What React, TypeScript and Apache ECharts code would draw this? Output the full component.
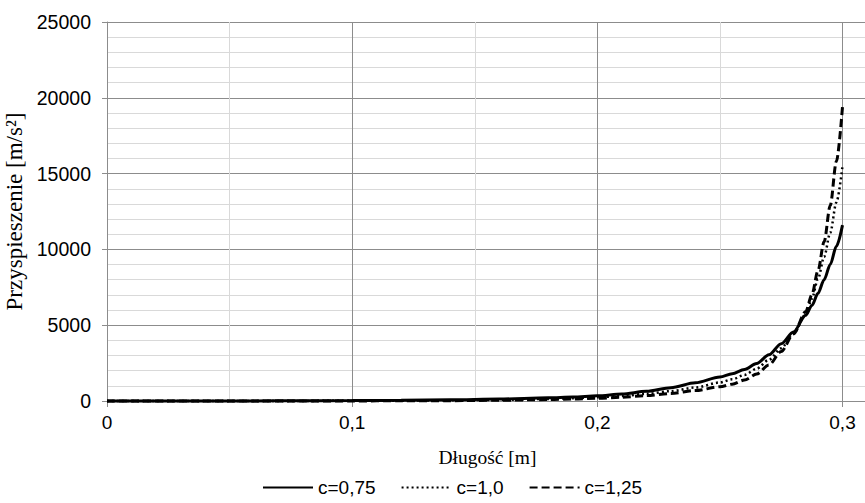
import React, { useEffect, useRef } from "react";
import * as echarts from "echarts";

const xs = [0, 0.02, 0.04, 0.06, 0.08, 0.1, 0.12, 0.14, 0.16, 0.18, 0.19, 0.2, 0.21, 0.22, 0.23, 0.24, 0.25, 0.255, 0.26, 0.265, 0.27, 0.275, 0.28, 0.285, 0.2875, 0.29, 0.2925, 0.295, 0.2975, 0.3];
const c075 = [0, 1, 3, 7, 15, 30, 50, 80, 130, 210, 265, 340, 460, 640, 880, 1200, 1580, 1800, 2080, 2480, 3050, 3780, 4550, 5650, 6300, 7100, 8000, 9000, 10200, 11600];
const c100 = [0, 0, 1, 3, 7, 13, 24, 44, 78, 140, 185, 245, 335, 470, 650, 890, 1220, 1430, 1720, 2130, 2720, 3480, 4450, 5700, 6750, 8050, 9500, 11100, 13100, 15500];
const c125 = [0, 0, 0, 1, 3, 6, 12, 24, 48, 95, 130, 175, 250, 355, 495, 690, 940, 1110, 1380, 1780, 2380, 3260, 4420, 5900, 7000, 8600, 10500, 12900, 15800, 19400];
const seriesNames = ["c=0,75", "c=1,0", "c=1,25"];
const xTickLabels = ["0", "0,1", "0,2", "0,3"];

const pairs = (ys: number[]) => xs.map((x, i) => [x, ys[i]]);

export default function App() {
  const ref = useRef<HTMLDivElement>(null);
  useEffect(() => {
    if (!ref.current) return;
    const chart = echarts.init(ref.current, undefined, { renderer: "svg" });
    const XMAX = 0.3104;
    const major = "#8c8c8c";
    const minor = "#d9d9d9";
    const sans = "Liberation Sans";
    const serif = "Liberation Serif";
    const lineBase = { type: "line", showSymbol: false, symbol: "none", clip: false, smooth: 0.3, smoothMonotone: "x" };
    chart.setOption({
      animation: false,
      backgroundColor: "#ffffff",
      grid: { left: 107, right: -3, top: 22, bottom: 102, containLabel: false, outerBoundsMode: "none" },
      legend: {
        left: 257,
        top: 473,
        itemWidth: 50,
        itemHeight: 14,
        itemGap: 25,
        itemStyle: { color: "rgba(0,0,0,0)", borderWidth: 0, opacity: 0 },
        textStyle: { fontFamily: sans, fontSize: 19, color: "#000" },
        data: seriesNames,
      },
      xAxis: [
        {
          type: "value",
          min: 0,
          max: XMAX,
          interval: 0.1,
          name: "Długość [m]",
          nameLocation: "middle",
          nameGap: 46,
          nameTextStyle: { fontFamily: serif, fontSize: 19.5, color: "#000" },
          axisLine: { show: true, lineStyle: { color: major, width: 1 } },
          axisTick: { show: true, length: 6, lineStyle: { color: major } },
          axisLabel: {
            margin: 12,
            fontFamily: sans,
            fontSize: 19,
            color: "#000",
            formatter: (v: number) => {
              const k = Math.round(v * 10);
              return Math.abs(v * 10 - k) < 1e-6 && k < xTickLabels.length ? xTickLabels[k] : "";
            },
          },
          splitLine: { show: true, lineStyle: { color: major, width: 1 } },
          z: 3,
        },
        {
          type: "value",
          min: 0,
          max: XMAX,
          interval: 0.05,
          position: "bottom",
          axisLine: { show: false },
          axisTick: { show: false },
          axisLabel: { show: false },
          splitLine: { show: true, lineStyle: { color: ["rgba(0,0,0,0)", minor], width: 1 } },
          z: 1,
        },
      ],
      yAxis: {
        type: "value",
        min: 0,
        max: 25000,
        interval: 5000,
        name: "Przyspieszenie [m/s²]",
        nameLocation: "middle",
        nameGap: 75,
        nameTextStyle: { fontFamily: serif, fontSize: 23, color: "#000" },
        axisLine: { show: true, lineStyle: { color: major, width: 1 } },
        axisTick: { show: true, length: 5, lineStyle: { color: major } },
        axisLabel: { margin: 16, fontFamily: sans, fontSize: 19.5, color: "#000", formatter: (v: number) => String(v) },
        splitLine: { show: true, lineStyle: { color: major, width: 1 } },
        minorTick: { show: false, splitNumber: 5 },
        minorSplitLine: { show: true, lineStyle: { color: minor, width: 1 } },
      },
      series: [
        {
          ...lineBase,
          name: seriesNames[0],
          data: pairs(c075),
          lineStyle: { color: "#000", width: 3, type: "solid" },
          itemStyle: { color: "#000" },
          z: 5,
        },
        {
          ...lineBase,
          name: seriesNames[1],
          data: pairs(c100),
          lineStyle: { color: "#000", width: 2.5, type: [2, 3] },
          itemStyle: { color: "#000" },
          z: 4,
        },
        {
          ...lineBase,
          name: seriesNames[2],
          data: pairs(c125),
          lineStyle: { color: "#000", width: 3, type: [8, 4] },
          itemStyle: { color: "#000" },
          z: 4,
        },
      ],
    });
    return () => chart.dispose();
  }, []);
  return <div ref={ref} style={{ position: "absolute", left: 0, top: 0, width: 865, height: 503 }} />;
}
